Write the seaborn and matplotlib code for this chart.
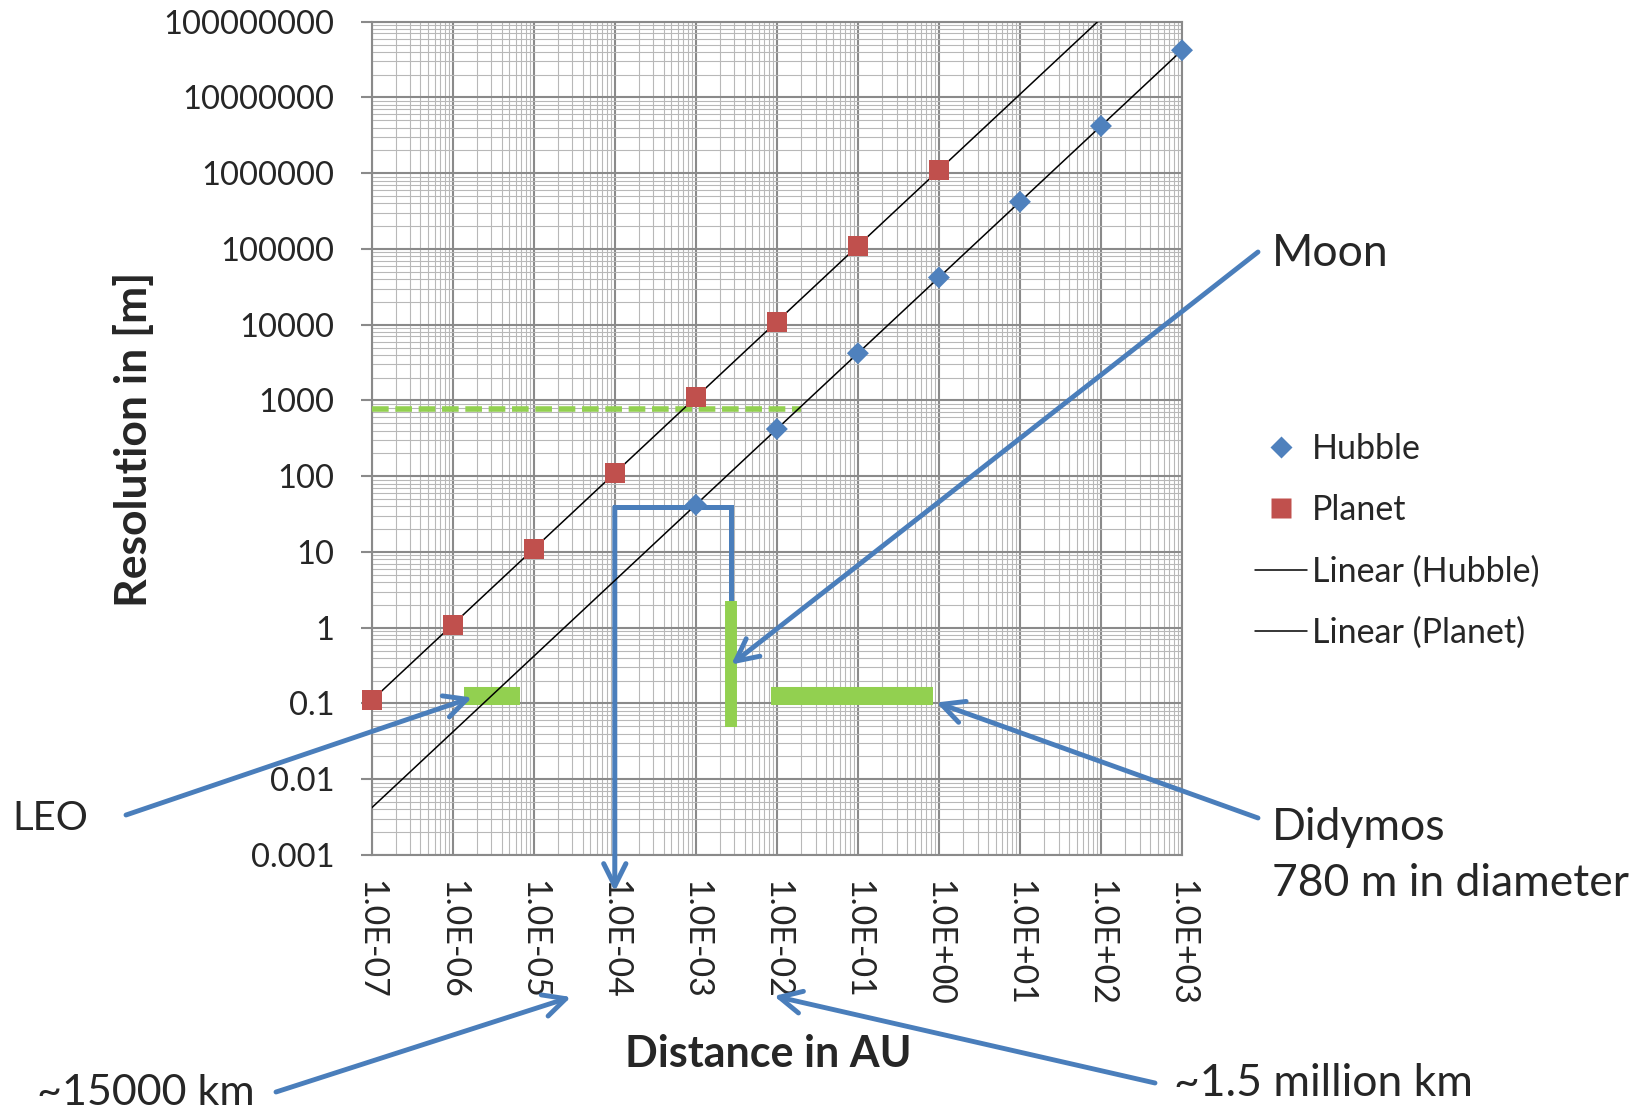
import numpy as np
import matplotlib
matplotlib.use("Agg")
import matplotlib.pyplot as plt
import seaborn as sns
from matplotlib.lines import Line2D
from matplotlib.ticker import LogLocator, FuncFormatter, NullFormatter

sns.set_theme(style="white")
plt.rcParams['font.family'] = ['Lato', 'DejaVu Sans']

# data
hubble_x = [1e-3, 1e-2, 1e-1, 1e0, 1e1, 1e2, 1e3]
hubble_y = [42, 420, 4200, 42000, 420000, 4200000, 42000000]
planet_x = [1e-7, 1e-6, 1e-5, 1e-4, 1e-3, 1e-2, 1e-1, 1e0]
planet_y = [0.11, 1.1, 11, 110, 1100, 11000, 110000, 1100000]

# marked objects
didymos_size = 780           # m, dashed line
didymos_dash_x = [1e-7, 0.02]
leo_bar_x = [1.38e-6, 6.8e-6]
didymos_bar_x = [0.0084, 0.85]
bar_y = 0.124
moon_x = 2.7e-3
moon_bar_y = [0.049, 2.25]
bracket_left_x = 1e-4
bracket_top_y = 39
bracket_tip_y = 3.3e-4

BLUE = '#4a7ebb'
GREEN = '#92d050'
RED = '#c0504d'
DIAMOND = '#4f81bd'

W, H = 1644, 1111
def fx(px):
    return px / W
def fy(py):
    return 1 - py / H

fig = plt.figure(figsize=(W / 100, H / 100), dpi=100)
ax = fig.add_axes([fx(371.7), fy(855), fx(1182) - fx(371.7), fy(21.7) - fy(855)])
ax.set_xscale('log')
ax.set_yscale('log')
ax.set_xlim(1e-7, 1e3)
ax.set_ylim(1e-3, 1e8)

# linear trendlines through origin
def fit_slope(x, y):
    x = np.asarray(x)
    y = np.asarray(y)
    return np.dot(x, y) / np.dot(x, x)

trend_x = np.array([1e-7, 1e3])
sns.lineplot(x=trend_x, y=fit_slope(hubble_x, hubble_y) * trend_x, color='black', lw=1.1, ax=ax, zorder=5)
sns.lineplot(x=trend_x, y=fit_slope(planet_x, planet_y) * trend_x, color='black', lw=1.1, ax=ax, zorder=5)

# green marks
ax.plot(didymos_dash_x, [didymos_size] * 2, color=GREEN, lw=4, dashes=(3, 1.2), zorder=4, clip_on=False)
ax.plot(leo_bar_x, [bar_y] * 2, color=GREEN, lw=13, solid_capstyle='butt', zorder=4)
ax.plot(didymos_bar_x, [bar_y] * 2, color=GREEN, lw=13, solid_capstyle='butt', zorder=4)

# blue bracket
ax.plot([moon_x, moon_x, bracket_left_x], [moon_bar_y[1], bracket_top_y, bracket_top_y],
        color=BLUE, lw=3.6, solid_capstyle='projecting', solid_joinstyle='miter', zorder=3)
ax.annotate('', xy=(bracket_left_x, bracket_tip_y), xytext=(bracket_left_x, bracket_top_y),
            arrowprops=dict(arrowstyle='->,head_length=0.8,head_width=0.4', color=BLUE, lw=3.6,
                            shrinkA=0, shrinkB=0, mutation_scale=20),
            annotation_clip=False, zorder=3)
ax.plot([moon_x, moon_x], moon_bar_y, color=GREEN, lw=8.6, solid_capstyle='butt', zorder=4)

# points
sns.scatterplot(x=planet_x, y=planet_y, marker='s', s=207, color=RED, edgecolor='none',
                ax=ax, legend=False, zorder=6, clip_on=False)
sns.scatterplot(x=hubble_x, y=hubble_y, marker='D', s=125, color=DIAMOND, edgecolor='none',
                ax=ax, legend=False, zorder=6, clip_on=False)

# grid and axes
ax.xaxis.set_major_locator(LogLocator(base=10, numticks=30))
ax.yaxis.set_major_locator(LogLocator(base=10, numticks=30))
ax.xaxis.set_minor_locator(LogLocator(base=10, subs=np.arange(2, 10), numticks=30))
ax.yaxis.set_minor_locator(LogLocator(base=10, subs=np.arange(2, 10), numticks=30))
ax.xaxis.set_minor_formatter(NullFormatter())
ax.yaxis.set_minor_formatter(NullFormatter())
ax.xaxis.set_major_formatter(FuncFormatter(lambda v, p: f"{v:.1E}"))
ax.yaxis.set_major_formatter(FuncFormatter(lambda v, p: f"{int(round(v))}" if v >= 1 else f"{v:g}"))
ax.grid(which='major', color='#8a8a8a', lw=1.5, zorder=0)
ax.grid(which='minor', color='#b8b8b8', lw=0.8, zorder=0)
ax.set_axisbelow(True)
for s in ax.spines.values():
    s.set_color('#8a8a8a')
    s.set_linewidth(1.5)
ax.tick_params(axis='y', which='major', length=8, width=1.5, color='#8a8a8a', pad=19, labelsize=23.5, left=True)
ax.tick_params(axis='x', which='major', length=0, pad=18, labelsize=24.5, labelrotation=270)
ax.tick_params(which='minor', length=0)
for lab in ax.get_xticklabels():
    lab.set_va('top')
    lab.set_ha('center')
ax.set_xlabel('')
ax.set_ylabel('')

fig.text(fx(133), fy(439), 'Resolution in [m]', rotation=90, ha='center', va='center',
         fontsize=32, fontweight='bold')
fig.text(fx(768), fy(1054), 'Distance in AU', ha='center', va='center', fontsize=31, fontweight='bold')

# legend
handles = [
    Line2D([], [], ls='none', marker='D', ms=11, color=DIAMOND, mec='none'),
    Line2D([], [], ls='none', marker='s', ms=14.4, color=RED, mec='none'),
    Line2D([], [], color='black', lw=1.1),
    Line2D([], [], color='black', lw=1.1),
]
fig.legend(handles, ['Hubble', 'Planet', 'Linear (Hubble)', 'Linear (Planet)'],
           loc='center left', bbox_to_anchor=(fx(1255), fy(541)), frameon=False,
           fontsize=24.5, handlelength=1.53, handletextpad=0.15, labelspacing=0.86, borderpad=0,
           borderaxespad=0)

# annotations
arrow = dict(arrowstyle='->,head_length=0.8,head_width=0.4', color=BLUE, lw=3.5,
             shrinkA=0, shrinkB=0, mutation_scale=20)
ax.annotate('', xy=(2.74e-3, 0.327), xycoords='data', xytext=(fx(1258), fy(252)),
            textcoords='figure fraction', arrowprops=arrow, zorder=7)
ax.annotate('', xy=(1.73e-6, 0.12), xycoords='data', xytext=(fx(126), fy(815)),
            textcoords='figure fraction', arrowprops=arrow, zorder=7, annotation_clip=False)
ax.annotate('', xy=(0.93, 0.103), xycoords='data', xytext=(fx(1258), fy(818)),
            textcoords='figure fraction', arrowprops=arrow, zorder=7, annotation_clip=False)
ax.annotate('', xy=(fx(571), fy(997)), xycoords='figure fraction', xytext=(fx(276), fy(1092)),
            textcoords='figure fraction', arrowprops=arrow, annotation_clip=False)
ax.annotate('', xy=(fx(774), fy(996)), xycoords='figure fraction', xytext=(fx(1155), fy(1083)),
            textcoords='figure fraction', arrowprops=arrow, annotation_clip=False)

fig.text(fx(1272), fy(253), 'Moon', ha='left', va='center', fontsize=32)
fig.text(fx(12), fy(818), 'LEO', ha='left', va='center', fontsize=29)
fig.text(fx(1272), fy(827), 'Didymos', ha='left', va='center', fontsize=32)
fig.text(fx(1272), fy(883), '780 m in diameter', ha='left', va='center', fontsize=32)
fig.text(fx(37), fy(1093), '~15000 km', ha='left', va='center', fontsize=31)
fig.text(fx(1174), fy(1083), '~1.5 million km', ha='left', va='center', fontsize=32)

fig.savefig('out.png', dpi=100)
